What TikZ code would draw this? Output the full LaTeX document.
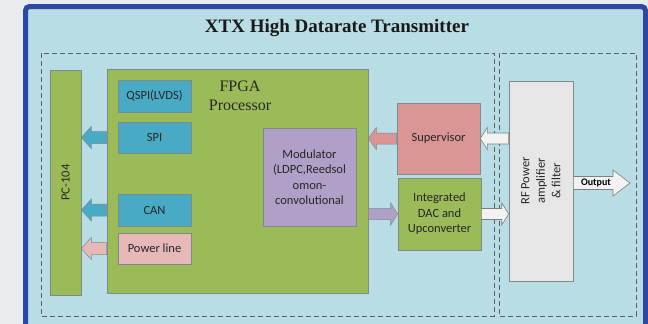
\documentclass[tikz,border=0pt]{standalone}
\usepackage{fontspec}
\setmainfont{Liberation Serif}
\setsansfont{Carlito}
\usetikzlibrary{calc}
\definecolor{bggray}{HTML}{E8ECEE}
\definecolor{bgblue}{HTML}{B8DDE5}
\definecolor{frameblue}{HTML}{2F49A3}
\definecolor{fgreen}{HTML}{9BBB59}
\definecolor{cblue}{HTML}{49AAC5}
\definecolor{salmon}{HTML}{D99694}
\definecolor{pinkish}{HTML}{E6B9B8}
\definecolor{lilac}{HTML}{B0A0C8}
\definecolor{lgray}{HTML}{E6E6E6}
\definecolor{wgray}{HTML}{F2F2F2}
\definecolor{edgegray}{HTML}{7F8A8C}
\definecolor{dashgray}{HTML}{5A5F62}
\newcommand\hbarrow[6]{%
  \draw[#1] let \p1=(#2), \p2=(#3), \n1={sign(\x2-\x1)} in
   (\x1,\y1+#4) -- (\x2-\n1*#6,\y1+#4) -- (\x2-\n1*#6,\y1+#5) -- (\x2,\y1)
   -- (\x2-\n1*#6,\y1-#5) -- (\x2-\n1*#6,\y1-#4) -- (\x1,\y1-#4) -- cycle;}
\tikzset{
  box/.style={draw=edgegray, line width=0.6pt, inner sep=0pt, align=center,
    font=\sffamily\fontsize{12.5}{15.5}\selectfont, text=black!85},
  greenbox/.style={box, fill=fgreen},
  bluebox/.style={box, fill=cblue},
  region/.style={draw=dashgray, line width=0.9pt, dash pattern=on 5pt off 3pt},
  barrow/.style={draw=edgegray, line width=0.5pt, fill=cblue},
  parrow/.style={draw=edgegray, line width=0.5pt, fill=pinkish},
  sarrow/.style={draw=edgegray, line width=0.5pt, fill=salmon},
  larrow/.style={draw=edgegray, line width=0.5pt, fill=lilac},
  warrow/.style={draw=gray, line width=0.6pt, fill=wgray},
}
\begin{document}
\begin{tikzpicture}[x=1pt,y=-1pt]
\useasboundingbox (0,0) rectangle (648,324);
\clip (0,0) rectangle (648,324);
\fill[bggray] (0,0) rectangle (648,324);
\draw[frameblue, line width=5pt, fill=bgblue, rounded corners=4pt] (25.5,6.5) rectangle (645.5,345);
\node[font=\bfseries\fontsize{19}{22}\selectfont, text=black!90] (title) at (337,28) {XTX High Datarate Transmitter};
% dashed regions
\draw[region] (41,53) rectangle (494,316);
\draw[region] (499,53) rectangle (636,316);
% boxes
\node[greenbox, minimum width=31pt, minimum height=225pt] (pc) at (65.5,182.5) {};
\node[rotate=90, font=\sffamily\fontsize{12.5}{15}\selectfont, text=black!85] (pclabel) at (pc.center) {PC-104};
\node[greenbox, minimum width=261pt, minimum height=224pt] (fpga) at (237.5,181) {};
\node[align=center, font=\fontsize{16}{19}\selectfont, text=black!85] (fpgalabel) at (240,96) {FPGA\\Processor};
\node[bluebox, minimum width=73pt, minimum height=32pt] (qspi) at (154.5,96) {QSPI(LVDS)};
\node[bluebox, minimum width=73pt, minimum height=31pt] (spi) at (154.5,137.5) {SPI};
\node[bluebox, minimum width=73pt, minimum height=32pt] (can) at (154.5,210) {CAN};
\node[box, fill=pinkish, minimum width=73pt, minimum height=31pt] (pwr) at (154.5,248.5) {Power line};
\node[box, fill=lilac, minimum width=93pt, minimum height=98pt] (mod) at (309.5,177) {Modulator\\(LDPC,Reedsol\\omon-\\convolutional};
\node[box, fill=salmon, minimum width=83pt, minimum height=71pt] (sup) at (438.5,138.5) {Supervisor};
\node[greenbox, minimum width=83pt, minimum height=72pt] (dac) at (439.5,214) {Integrated\\DAC and\\Upconverter};
\node[box, fill=lgray, minimum width=64pt, minimum height=200pt] (rf) at (541,181) {};
\node[rotate=90, align=center, font=\sffamily\fontsize{12.5}{15.5}\selectfont, text=black!85] (rflabel) at (rf.center) {RF Power\\amplifier\\\& filter};
\coordinate (outend) at (630,183);
% arrows
\hbarrow{barrow}{fpga.west |- spi}{pc.east |- spi}{6pt}{11pt}{10pt}
\hbarrow{barrow}{fpga.west |- can}{pc.east |- can}{6pt}{11pt}{10pt}
\hbarrow{parrow}{fpga.west |- pwr}{pc.east |- pwr}{6pt}{11pt}{10pt}
\hbarrow{sarrow}{sup.west}{fpga.east |- sup}{5.5pt}{11pt}{8pt}
\hbarrow{larrow}{fpga.east |- dac}{dac.west}{5.5pt}{11pt}{7pt}
\hbarrow{warrow}{rf.west |- sup}{sup.east}{5.5pt}{11pt}{7pt}
\hbarrow{warrow}{dac.east}{rf.west |- dac}{5.5pt}{11pt}{7pt}
\hbarrow{warrow}{rf.east |- outend}{outend}{6.5pt}{13pt}{17pt}
\node[font=\sffamily\bfseries\fontsize{10}{12}\selectfont] (outlabel) at (596,183) {Output};
\end{tikzpicture}
\end{document}
